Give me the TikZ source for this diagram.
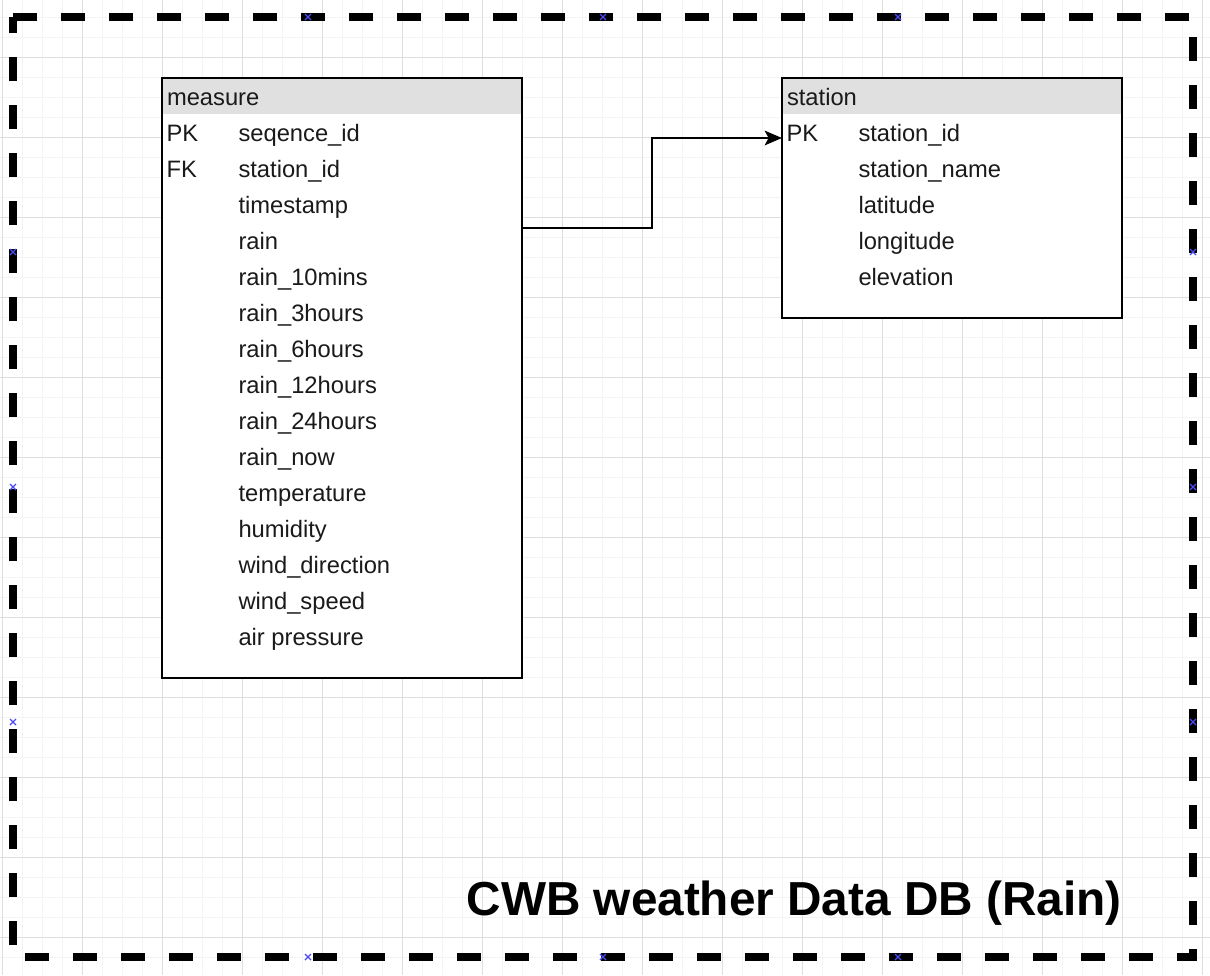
\documentclass[tikz,border=0pt]{standalone}
\usepackage{fontspec}
\setmainfont{Liberation Sans}
\usetikzlibrary{arrows.meta,calc}
\definecolor{gridminor}{HTML}{F4F4F4}
\definecolor{gridmajor}{HTML}{DEDEDE}
\definecolor{headgray}{HTML}{E0E0E0}
\definecolor{markblue}{HTML}{4A4AF0}
\definecolor{txt}{HTML}{1A1A1A}
\tikzset{
  tablebox/.style={draw=black, fill=white, line width=1.5pt, anchor=north west, inner sep=0pt, outer sep=0pt},
  celltext/.style={anchor=base west, inner sep=0pt, outer sep=0pt, text=txt, font=\fontsize{17.8pt}{20pt}\selectfont},
  framebox/.style={draw=none, anchor=north west, inner sep=0pt, outer sep=0pt, minimum width=885pt, minimum height=705pt},
  framedash/.style={draw=black, line width=5.6pt, dash pattern=on 18pt off 18pt},
  conn/.style={draw=black, line width=1.5pt, -{Stealth[length=13pt, width=11pt, inset=3pt]}},
  marker/.style={draw=markblue, line width=1pt},
  titletext/.style={anchor=base east, inner sep=0pt, font=\bfseries\fontsize{35.8pt}{40pt}\selectfont, text=black}
}
\begin{document}
\begin{tikzpicture}[x=0.75pt,y=-0.75pt]
\useasboundingbox (0,0) rectangle (1210,975);
\fill[white] (0,0) rectangle (1210,975);
% grid
\foreach \x in {2,22,...,1202} \draw[gridminor, line width=0.75pt] (\x,0) -- (\x,975);
\foreach \y in {17,37,...,975} \draw[gridminor, line width=0.75pt] (0,\y) -- (1210,\y);
\foreach \x in {2,82,...,1202} \draw[gridmajor, line width=0.75pt] (\x,0) -- (\x,975);
\foreach \y in {57,137,...,975} \draw[gridmajor, line width=0.75pt] (0,\y) -- (1210,\y);
% frame
\node[framebox] (box) at (13,17) {};
\draw[framedash] (box.north west) -- (box.north east) -- (box.south east) -- (box.south west) -- cycle;
% markers
\foreach \px/\py in {308/17,603/17,898/17,308/957,603/957,898/957,13/252,13/487,13/722,1193/252,1193/487,1193/722}
  \draw[marker] (\px-3,\py-3) -- (\px+3,\py+3) (\px-3,\py+3) -- (\px+3,\py-3);
% measure table
\node[tablebox, minimum width=270pt, minimum height=450pt] (measure) at (162,78) {};
\fill[headgray] ($(measure.north west)+(1,1)$) rectangle ($(measure.north east)+(-1,36)$);
\node[celltext] (m0) at (167,105.5) {measure};
\foreach \k/\pk/\nm in {1/PK/seqence\_id,2/FK/station\_id,3//timestamp,4//rain,5//rain\_10mins,6//rain\_3hours,7//rain\_6hours,8//rain\_12hours,9//rain\_24hours,10//rain\_now,11//temperature,12//humidity,13//wind\_direction,14//wind\_speed,15//air pressure}{
  \node[celltext] (mk\k) at (166.5,105.5+36*\k) {\pk};
  \node[celltext] (m\k) at (238.5,105.5+36*\k) {\nm};
}
% station table
\node[tablebox, minimum width=255pt, minimum height=180pt] (station) at (782,78) {};
\fill[headgray] ($(station.north west)+(1,1)$) rectangle ($(station.north east)+(-1,36)$);
\node[celltext] (s0) at (787,105.5) {station};
\foreach \k/\pk/\nm in {1/PK/station\_id,2//station\_name,3//latitude,4//longitude,5//elevation}{
  \node[celltext] (sk\k) at (786.5,105.5+36*\k) {\pk};
  \node[celltext] (s\k) at (858.5,105.5+36*\k) {\nm};
}
% connector
\draw[conn] ($(measure.north east)+(0,150)$) -- ++(130,0) |- ($(station.north west)+(0,60)$);
% title
\node[titletext] (title) at (1122,915) {CWB weather Data DB (Rain)};
\end{tikzpicture}
\end{document}
